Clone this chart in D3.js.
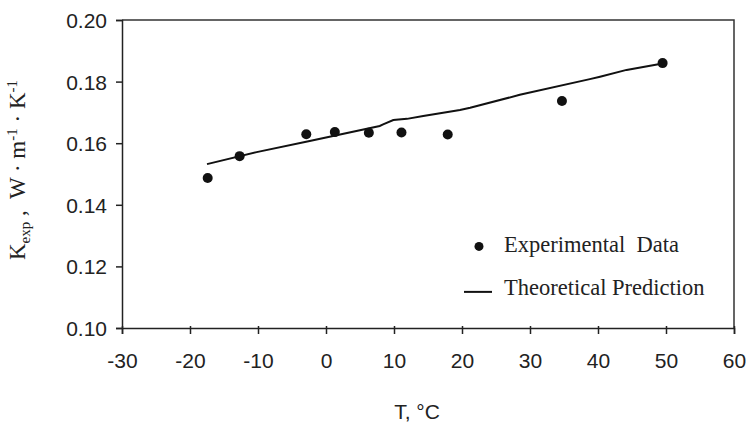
<!DOCTYPE html>
<html>
<head>
<meta charset="utf-8">
<script src="https://cdn.jsdelivr.net/npm/d3@7"></script>
<style>
  html, body { margin: 0; padding: 0; background: #fff; }
  svg { display: block; }
</style>
</head>
<body>
<div id="chart"></div>
<script>
// Experimental data (T in °C, K in W/m/K)
const expTemp = [-17.4, -12.7, -2.9, 1.3, 6.3, 11.1, 17.9, 34.7, 49.5];
const expK = [0.1487, 0.1558, 0.1629, 0.1636, 0.1634, 0.1635, 0.1628, 0.1737, 0.1860];

// Theoretical prediction curve
const predTemp = [-17.5, -10.2, -2.4, 7.9, 8.4, 9.9, 11.9, 14.3, 19.7, 21.2, 28.5, 38.8, 40.3, 44.2, 49.5];
const predK = [0.1532, 0.1571, 0.1607, 0.1656, 0.1661, 0.1675, 0.1679, 0.1688, 0.1708, 0.1715, 0.1757, 0.1808, 0.1816, 0.1838, 0.1859];

const xTicks = [-30, -20, -10, 0, 10, 20, 30, 40, 50, 60];
const yTicks = [0.10, 0.12, 0.14, 0.16, 0.18, 0.20];

const width = 747;
const height = 423;
const margin = { top: 20, right: 13, bottom: 95, left: 122 };
const innerWidth = width - margin.left - margin.right;
const innerHeight = height - margin.top - margin.bottom;
const sansFont = "'Liberation Sans', Arial, sans-serif";
const serifFont = "'Liberation Serif', 'Times New Roman', serif";

const svg = d3.select("#chart")
  .append("svg")
  .attr("width", width)
  .attr("height", height);

const chart = svg.append("g")
  .attr("transform", `translate(${margin.left},${margin.top})`);

const xScale = d3.scaleLinear().domain([-30, 60]).range([0, innerWidth]);
const yScale = d3.scaleLinear().domain([0.10, 0.20]).range([innerHeight, 0]);

// frame (top + right)
chart.append("path")
  .attr("d", `M0,0H${innerWidth}V${innerHeight}`)
  .attr("fill", "none")
  .attr("stroke", "#333")
  .attr("stroke-width", 1.5);

function styleAxis(g) {
  g.attr("font-family", sansFont).attr("font-size", 21);
  g.selectAll(".tick text").attr("fill", "#222");
  g.selectAll(".tick line, .domain").attr("stroke", "#222").attr("stroke-width", 1.5);
}

const xAxis = chart.append("g")
  .attr("transform", `translate(0,${innerHeight})`)
  .call(d3.axisBottom(xScale).tickValues(xTicks).tickSize(6).tickFormat((d) => String(d)))
  .call(styleAxis);
xAxis.selectAll(".tick line").attr("y1", -2);
xAxis.selectAll(".tick text").attr("dy", null).attr("y", 40);

const yAxis = chart.append("g")
  .call(d3.axisLeft(yScale).tickValues(yTicks).tickSize(6).tickFormat(d3.format(".2f")))
  .call(styleAxis);
yAxis.selectAll(".tick text").attr("dy", null).attr("x", -15).attr("y", 7.5);

// theoretical line
const line = d3.line()
  .x((d, i) => xScale(predTemp[i]))
  .y((d, i) => yScale(predK[i]));

chart.append("path")
  .datum(predTemp)
  .attr("d", line)
  .attr("fill", "none")
  .attr("stroke", "#111")
  .attr("stroke-width", 2);

// experimental points
chart.selectAll(".exp-dot")
  .data(expTemp)
  .join("circle")
  .attr("class", "exp-dot")
  .attr("cx", (d) => xScale(d))
  .attr("cy", (d, i) => yScale(expK[i]))
  .attr("r", 5)
  .attr("fill", "#111");

// legend
const legend = chart.append("g")
  .attr("transform", `translate(${xScale(22.5)},${yScale(0.1265)})`);

legend.append("circle")
  .attr("cx", 0).attr("cy", 0).attr("r", 4.5).attr("fill", "#111");
legend.append("text")
  .attr("x", 25).attr("y", 6)
  .attr("font-family", serifFont)
  .attr("font-size", 22.5).attr("fill", "#222")
  .attr("xml:space", "preserve")
  .text("Experimental  Data");

legend.append("line")
  .attr("x1", -15).attr("x2", 13)
  .attr("y1", 45.5).attr("y2", 45.5)
  .attr("stroke", "#111").attr("stroke-width", 2);
legend.append("text")
  .attr("x", 25).attr("y", 49)
  .attr("font-family", serifFont)
  .attr("font-size", 22.5).attr("fill", "#222")
  .text("Theoretical Prediction");

// axis titles
svg.append("text")
  .attr("x", 417).attr("y", 419)
  .attr("text-anchor", "middle")
  .attr("font-family", sansFont)
  .attr("font-size", 21).attr("fill", "#222")
  .text("T, °C");

const yTitle = svg.append("text")
  .attr("transform", "translate(25,260) rotate(-90)")
  .attr("font-family", serifFont)
  .attr("font-size", 23).attr("fill", "#222");
yTitle.append("tspan").text("K");
yTitle.append("tspan").attr("font-size", 15).attr("dy", 5).text("exp");
yTitle.append("tspan").attr("dy", -5).attr("xml:space", "preserve").text(" ,  W · m");
yTitle.append("tspan").attr("font-size", 15).attr("dy", -8).text("-1");
yTitle.append("tspan").attr("dy", 8).attr("xml:space", "preserve").text(" · K");
yTitle.append("tspan").attr("font-size", 15).attr("dy", -8).text("-1");
</script>
</body>
</html>
